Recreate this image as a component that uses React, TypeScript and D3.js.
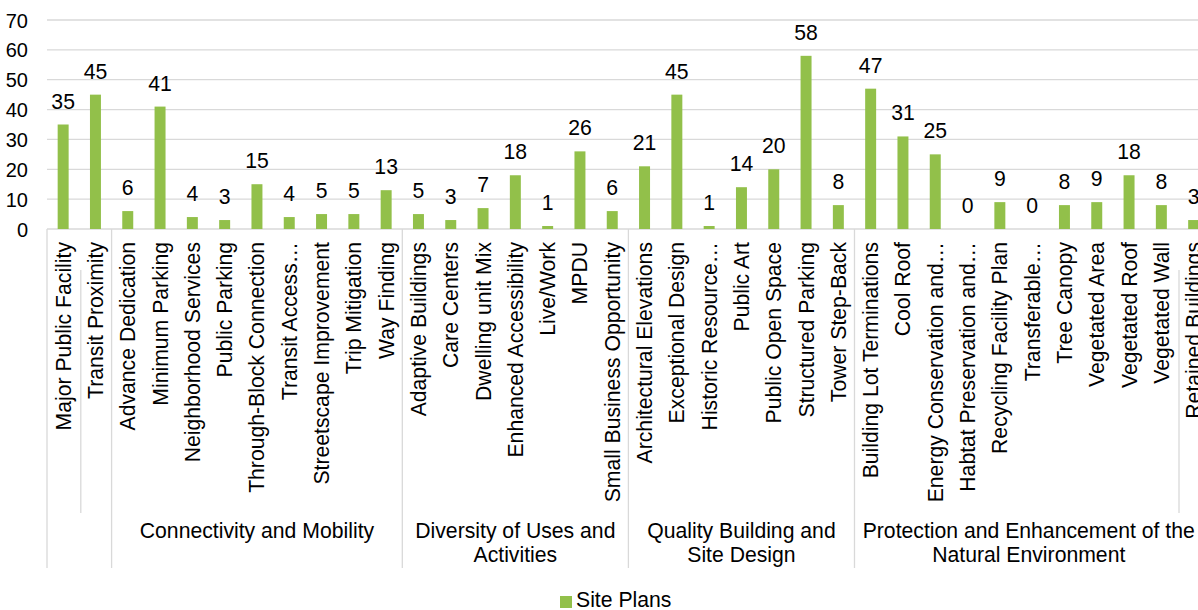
import React from "react";
import * as d3 from "d3";

const categories = [
  "Major Public Facility", "Transit Proximity",
  "Advance Dedication", "Minimum Parking", "Neighborhood Services", "Public Parking", "Through-Block Connection", "Transit Access…", "Streetscape Improvement", "Trip Mitigation", "Way Finding",
  "Adaptive Buildings", "Care Centers", "Dwelling unit Mix", "Enhanced Accessibility", "Live/Work", "MPDU", "Small Business Opportunity",
  "Architectural Elevations", "Exceptional Design", "Historic Resource…", "Public Art", "Public Open Space", "Structured Parking", "Tower Step-Back",
  "Building Lot Terminations", "Cool Roof", "Energy Conservation and…", "Habtat Preservation and…", "Recycling Facility Plan", "Transferable…", "Tree Canopy", "Vegetated Area", "Vegetated Roof", "Vegetated Wall", "Retained Buildings",
];
const sitePlans = [35, 45, 6, 41, 4, 3, 15, 4, 5, 5, 13, 5, 3, 7, 18, 1, 26, 6, 21, 45, 1, 14, 20, 58, 8, 47, 31, 25, 0, 9, 0, 8, 9, 18, 8, 3];
const groupLabels = [
  ["Connectivity and Mobility"],
  ["Diversity of Uses and", "Activities"],
  ["Quality Building and", "Site Design"],
  ["Protection and Enhancement of the", "Natural Environment"],
];
const groupStarts = [2, 11, 18, 25];
const groupEnds = [11, 18, 25, 36];
const fullSeparators = [0, 2, 11, 18, 25];
const shortSeparators = [1, 35];
const yTicks = [0, 10, 20, 30, 40, 50, 60, 70];

const W = 1198;
const H = 610;
const LEFT = 47;
const BAND = 32.3;
const TOP = 20;
const BOTTOM = 229;
const GREEN = "#92C04A";
const GRID = "#d9d9d9";
const FONT = "'Liberation Sans', Arial, sans-serif";
const FS = 21.2;

export default function App() {
  const x = d3
    .scaleBand<number>()
    .domain(d3.range(categories.length))
    .range([LEFT, LEFT + BAND * categories.length])
    .paddingInner(0.66)
    .paddingOuter(0.33);
  const y = d3.scaleLinear().domain([0, 70]).range([BOTTOM, TOP]);
  const edge = (k: number) => LEFT + k * BAND;

  return (
    <svg width={W} height={H} style={{ position: "absolute", left: 0, top: 0, fontFamily: FONT }}>
      {yTicks.map((t) => (
        <g key={t}>
          {t > 0 && <line x1={LEFT} x2={W} y1={y(t)} y2={y(t)} stroke={GRID} strokeWidth={1.3} />}
          <text x={28} y={y(t) + 7.5} textAnchor="end" fontSize={20} fill="#000">
            {t}
          </text>
        </g>
      ))}
      <line x1={LEFT} x2={W} y1={BOTTOM} y2={BOTTOM} stroke={GRID} strokeWidth={1.3} />
      {fullSeparators.map((k) => (
        <line key={"f" + k} x1={edge(k)} x2={edge(k)} y1={BOTTOM} y2={568} stroke={GRID} strokeWidth={1.3} />
      ))}
      {shortSeparators.map((k) => (
        <line key={"s" + k} x1={edge(k) + 1.5} x2={edge(k) + 1.5} y1={270} y2={513} stroke={GRID} strokeWidth={1.3} />
      ))}
      {sitePlans.map((v, i) => (
        <g key={i}>
          <rect x={x(i)} y={y(v)} width={x.bandwidth()} height={y(0) - y(v)} fill={GREEN} />
          <text x={x(i)! + x.bandwidth() / 2} y={y(v) - 16} textAnchor="middle" fontSize={FS} fill="#000">
            {v}
          </text>
        </g>
      ))}
      {categories.map((c, i) => {
        const cx = x(i)! + x.bandwidth() / 2;
        return (
          <text
            key={c}
            transform={`translate(${cx + 7.5},${242}) rotate(-90)`}
            textAnchor="end"
            fontSize={FS}
            fill="#000"
          >
            {c}
          </text>
        );
      })}
      {groupLabels.map((lines, g) => {
        const cx = (edge(groupStarts[g]) + Math.min(edge(groupEnds[g]), W + 5)) / 2;
        return (
          <text key={g} textAnchor="middle" fontSize={FS} fill="#000">
            {lines.map((l, j) => (
              <tspan key={j} x={cx} y={538 + j * 24}>
                {l}
              </tspan>
            ))}
          </text>
        );
      })}
      <rect x={560} y={596} width={12} height={12} fill={GREEN} />
      <text x={576} y={607} fontSize={FS} fill="#000">
        Site Plans
      </text>
    </svg>
  );
}
